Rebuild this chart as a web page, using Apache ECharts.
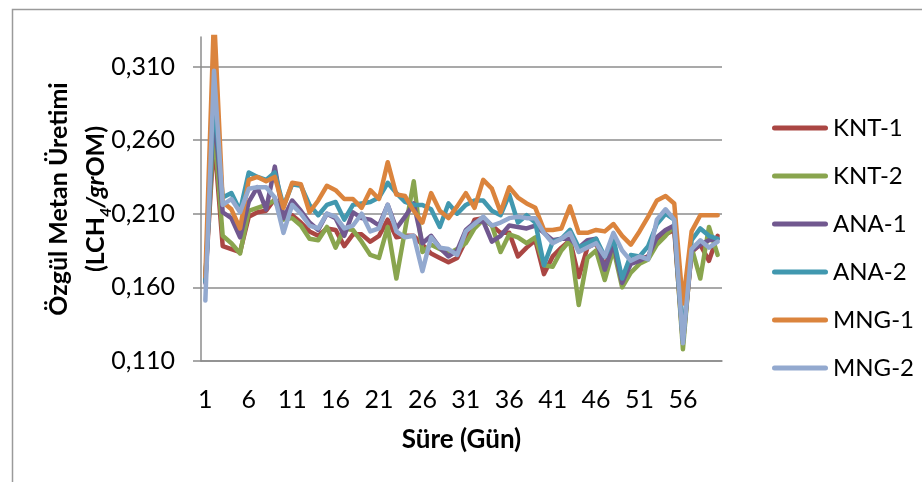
<!DOCTYPE html>
<html>
<head>
<meta charset="utf-8">
<script src="https://cdn.jsdelivr.net/npm/echarts@6/dist/echarts.min.js"></script>
<style>
html,body{margin:0;padding:0;background:#fff;}
#chart{width:922px;height:482px;}
</style>
</head>
<body>
<div id="chart"></div>
<script>
// ---- data ----
var days = [];
for (var d = 1; d <= 60; d++) days.push(String(d));

var yTicks = [0.110, 0.160, 0.210, 0.260, 0.310];

var seriesNames = ['KNT-1', 'KNT-2', 'ANA-1', 'ANA-2', 'MNG-1', 'MNG-2'];
var seriesColors = ['#AA4643', '#89A54E', '#71588F', '#4198AF', '#DB843D', '#93A9CF'];

var knt1 = [0.165,0.262,0.188,0.186,0.184,0.208,0.211,0.212,0.220,0.210,
            0.209,0.204,0.198,0.195,0.200,0.199,0.188,0.196,0.196,0.191,
            0.195,0.206,0.194,0.195,0.195,0.189,0.183,0.180,0.177,0.180,
            0.192,0.206,0.207,0.202,0.197,0.197,0.181,0.187,0.192,0.169,
            0.181,0.187,0.192,0.167,0.187,0.190,0.174,0.189,0.165,0.177,
            0.179,0.181,0.192,0.196,0.199,0.122,0.184,0.189,0.178,0.195];
var knt2 = [0.166,0.270,0.195,0.190,0.183,0.212,0.214,0.216,0.219,0.206,
            0.207,0.202,0.193,0.192,0.201,0.187,0.200,0.199,0.191,0.182,
            0.180,0.201,0.166,0.199,0.232,0.184,0.189,0.186,0.183,0.186,
            0.190,0.200,0.206,0.202,0.184,0.196,0.194,0.190,0.194,0.175,
            0.174,0.185,0.192,0.148,0.180,0.185,0.165,0.186,0.160,0.170,
            0.176,0.179,0.189,0.195,0.202,0.118,0.187,0.166,0.201,0.182];
var ana1 = [0.163,0.282,0.211,0.207,0.194,0.218,0.228,0.213,0.242,0.207,
            0.219,0.212,0.204,0.199,0.210,0.207,0.195,0.211,0.207,0.206,
            0.202,0.216,0.200,0.208,0.217,0.190,0.195,0.187,0.181,0.185,
            0.199,0.204,0.205,0.191,0.195,0.202,0.201,0.200,0.202,0.197,
            0.192,0.193,0.193,0.187,0.192,0.193,0.172,0.190,0.163,0.176,
            0.178,0.181,0.194,0.199,0.202,0.124,0.185,0.189,0.192,0.193];
var ana2 = [0.164,0.290,0.221,0.224,0.212,0.238,0.235,0.233,0.238,0.215,
            0.230,0.229,0.216,0.209,0.216,0.218,0.206,0.216,0.217,0.218,
            0.221,0.231,0.224,0.218,0.216,0.216,0.213,0.201,0.217,0.210,
            0.216,0.219,0.219,0.212,0.209,0.223,0.204,0.209,0.204,0.175,
            0.191,0.193,0.199,0.187,0.190,0.193,0.181,0.193,0.166,0.182,
            0.181,0.188,0.203,0.210,0.206,0.124,0.192,0.200,0.195,0.193];
var mng1 = [0.167,0.345,0.218,0.213,0.200,0.233,0.235,0.232,0.235,0.214,
            0.231,0.230,0.211,0.219,0.229,0.226,0.220,0.220,0.214,0.226,
            0.220,0.245,0.223,0.222,0.212,0.204,0.224,0.212,0.207,0.215,
            0.224,0.214,0.233,0.227,0.211,0.228,0.221,0.217,0.214,0.199,
            0.199,0.200,0.215,0.197,0.197,0.199,0.198,0.203,0.195,0.189,
            0.198,0.208,0.219,0.222,0.217,0.149,0.198,0.209,0.209,0.209];
var mng2 = [0.151,0.307,0.216,0.220,0.211,0.227,0.228,0.228,0.221,0.197,
            0.216,0.210,0.202,0.200,0.210,0.208,0.200,0.202,0.210,0.198,
            0.200,0.216,0.198,0.194,0.195,0.171,0.194,0.187,0.186,0.182,
            0.198,0.203,0.208,0.202,0.204,0.207,0.208,0.207,0.207,0.197,
            0.190,0.193,0.197,0.184,0.187,0.190,0.181,0.197,0.185,0.178,
            0.181,0.179,0.206,0.213,0.206,0.122,0.186,0.192,0.187,0.191];

var seriesData = [knt1, knt2, ana1, ana2, mng1, mng2];

// ---- chart ----
var FONT = 'Lato';
var chart = echarts.init(document.getElementById('chart'), null, {renderer: 'canvas'});

var pill = 'path://M2.5,0 H53.5 A2.5,2.5 0 0 1 53.5,5 H2.5 A2.5,2.5 0 0 1 2.5,0 Z';

var series = seriesNames.map(function (name, i) {
  return {
    name: name,
    type: 'line',
    data: seriesData[i],
    symbol: 'none',
    clip: true,
    lineStyle: {width: 4.5, color: seriesColors[i], join: 'round', cap: 'round'},
    itemStyle: {color: seriesColors[i]},
    emphasis: {disabled: true}
  };
});

chart.setOption({
  animation: false,
  backgroundColor: '#ffffff',
  textStyle: {fontFamily: FONT, color: '#000'},
  graphic: [{
    type: 'rect',
    left: 10, top: 7,
    shape: {width: 960, height: 520},
    style: {fill: 'none', stroke: '#9a9a9a', lineWidth: 1.5},
    silent: true
  }],
  grid: {left: 201, top: 37, right: 200, bottom: 121, containLabel: false},
  legend: {
    orient: 'vertical',
    left: 767,
    top: 110,
    itemWidth: 56,
    itemHeight: 5,
    itemGap: 22,
    icon: pill,
    data: seriesNames,
    textStyle: {fontFamily: FONT, fontSize: 24, color: '#000', lineHeight: 26}
  },
  xAxis: {
    type: 'category',
    data: days,
    boundaryGap: true,
    name: 'Süre (Gün)',
    nameLocation: 'middle',
    nameGap: 66,
    nameMoveOverlap: false,
    nameTextStyle: {fontFamily: FONT, fontWeight: 'bold', fontSize: 26, color: '#000'},
    axisLine: {show: true, lineStyle: {color: '#8c8c8c', width: 1.5}},
    axisTick: {show: false},
    axisLabel: {interval: 4, margin: 26, fontFamily: FONT, fontSize: 25, color: '#000'},
    splitLine: {show: false}
  },
  yAxis: {
    type: 'value',
    min: 0.11,
    max: 0.33,
    name: '{b|Özgül Metan Üretimi}\n{b|(LCH}{s|4}{i|/gr}{b|OM)}',
    nameLocation: 'middle',
    nameRotate: 90,
    nameGap: 87,
    nameMoveOverlap: false,
    nameTextStyle: {
      fontFamily: FONT,
      rich: {
        b: {fontFamily: FONT, fontWeight: 'bold', fontSize: 25, lineHeight: 37, color: '#000'},
        i: {fontFamily: FONT, fontWeight: 'bold', fontStyle: 'italic', fontSize: 25, lineHeight: 37, color: '#000'},
        s: {fontFamily: FONT, fontWeight: 'bold', fontStyle: 'italic', fontSize: 16, lineHeight: 37, verticalAlign: 'bottom', color: '#000'}
      }
    },
    axisLine: {show: true, lineStyle: {color: '#8c8c8c', width: 1.5}},
    axisTick: {show: true, length: 8, customValues: yTicks, lineStyle: {color: '#8c8c8c', width: 1.5}},
    axisLabel: {
      customValues: yTicks,
      margin: 26,
      fontFamily: FONT,
      fontSize: 25,
      color: '#000',
      formatter: function (v) { return v.toFixed(3).replace('.', ','); }
    },
    splitLine: {show: true, customValues: yTicks, lineStyle: {color: '#8c8c8c', width: 1.5}}
  },
  series: series
});
</script>
</body>
</html>
